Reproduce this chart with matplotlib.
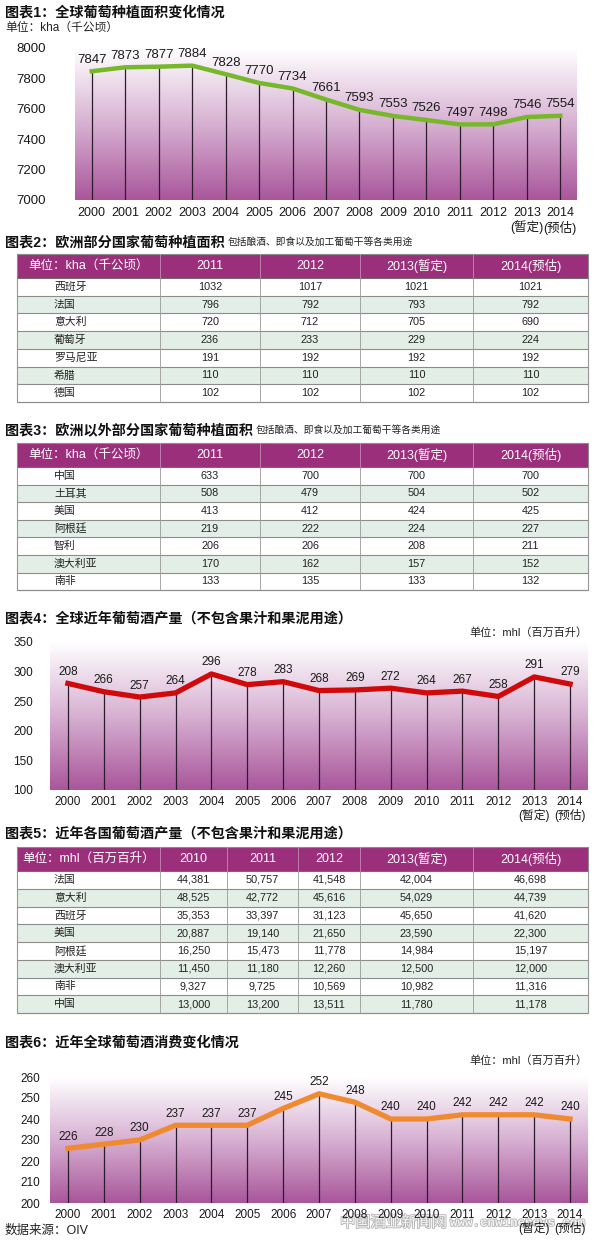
import matplotlib.pyplot as plt
import matplotlib.patheffects as pe
import numpy as np
from matplotlib.colors import LinearSegmentedColormap
from matplotlib.patches import Rectangle

plt.rcParams['font.family'] = ['Liberation Sans', 'Noto Sans CJK SC', 'DejaVu Sans']

# ---- data ----
years = ['2000', '2001', '2002', '2003', '2004', '2005', '2006', '2007',
         '2008', '2009', '2010', '2011', '2012', '2013\n(暂定)', '2014\n(预估)']

area_world = [7847, 7873, 7877, 7884, 7828, 7770, 7734, 7661, 7593, 7553,
              7526, 7497, 7498, 7546, 7554]
prod_world = [280, 266, 257, 264, 296, 278, 283, 268, 269, 272, 264, 267, 258, 291, 279]
prod_labels = ['208', '266', '257', '264', '296', '278', '283', '268', '269', '272',
               '264', '267', '258', '291', '279']
cons_world = [226, 228, 230, 237, 237, 237, 245, 252, 248, 240, 240, 242, 242, 242, 240]

area_cols = ['2011', '2012', '2013(暂定)', '2014(预估)']
eu_countries = ['西班牙', '法国', '意大利', '葡萄牙', '罗马尼亚', '希腊', '德国']
eu_area = [[1032, 1017, 1021, 1021], [796, 792, 793, 792], [720, 712, 705, 690],
           [236, 233, 229, 224], [191, 192, 192, 192], [110, 110, 110, 110],
           [102, 102, 102, 102]]

other_countries = ['中国', '土耳其', '美国', '阿根廷', '智利', '澳大利亚', '南非']
other_area = [[633, 700, 700, 700], [508, 479, 504, 502], [413, 412, 424, 425],
              [219, 222, 224, 227], [206, 206, 208, 211], [170, 162, 157, 152],
              [133, 135, 133, 132]]

wine_cols = ['2010', '2011', '2012', '2013(暂定)', '2014(预估)']
wine_countries = ['法国', '意大利', '西班牙', '美国', '阿根廷', '澳大利亚', '南非', '中国']
wine_prod = [[44381, 50757, 41548, 42004, 46698], [48525, 42772, 45616, 54029, 44739],
             [35353, 33397, 31123, 45650, 41620], [20887, 19140, 21650, 23590, 22300],
             [16250, 15473, 11778, 14984, 15197], [11450, 11180, 12260, 12500, 12000],
             [9327, 9725, 10569, 10982, 11316], [13000, 13200, 13511, 11780, 11178]]

# ---- layout helpers (pixel units) ----
W, H = 600, 1243
fig = plt.figure(figsize=(6, 12.43), dpi=100)
page = fig.add_axes([0, 0, 1, 1])
page.set_xlim(0, W)
page.set_ylim(H, 0)
page.axis('off')

cmap = LinearSegmentedColormap.from_list('mauve', ['#a9569b', '#d7b0d2', '#ffffff'])
grad = np.linspace(0, 1, 256).reshape(-1, 1)


def px_axes(left, top, right, bottom):
    return fig.add_axes([left / W, 1 - bottom / H, (right - left) / W, (bottom - top) / H])


def line_chart(box, vals, labels, ylim, yticks, color, lw, fs, ypad, xpad, xfs=None):
    ax = px_axes(*box)
    ax.imshow(grad, extent=[0, 1, 0, 1], transform=ax.transAxes, aspect='auto',
              cmap=cmap, origin='lower', zorder=0)
    x = np.arange(len(vals))
    ax.vlines(x, ylim[0], vals, color='#2b1d2b', lw=0.9, zorder=1)
    ax.plot(x, vals, color=color, lw=lw, zorder=2, solid_joinstyle='round')
    for xi, v, t in zip(x, vals, labels):
        ax.annotate(t, (xi, v), xytext=(0, 4), textcoords='offset points',
                    ha='center', va='bottom', fontsize=fs, color='#1a1a1a')
    ax.set_xlim(-0.5, 14.5)
    ax.set_ylim(*ylim)
    ax.set_xticks(x, years, fontsize=xfs or fs, linespacing=1.15)
    ax.set_yticks(yticks, [str(t) for t in yticks], fontsize=fs)
    ax.tick_params(axis='x', length=0, pad=xpad, colors='#1a1a1a')
    ax.tick_params(axis='y', length=0, pad=ypad, colors='#1a1a1a')
    for s in ax.spines.values():
        s.set_visible(False)
    return ax


def table(top, header_h, row_h, edges, header, names, rows, fmt):
    left, right = edges[0], edges[-1]
    page.add_patch(Rectangle((left, top), right - left, header_h, color='#9b2f7c', lw=0))
    for i, h in enumerate(header):
        page.text((edges[i] + edges[i + 1]) / 2, top + header_h / 2, h, color='white',
                  fontsize=9, ha='center', va='center')
    for e in edges[1:-1]:
        page.plot([e, e], [top, top + header_h], color='#c48ab4', lw=0.6)
    y0 = top + header_h
    for r, (name, vals) in enumerate(zip(names, rows)):
        yy = y0 + r * row_h
        bg = '#ffffff' if r % 2 == 0 else '#e3efe6'
        page.add_patch(Rectangle((left, yy), right - left, row_h, color=bg, lw=0))
        page.text(54, yy + row_h / 2, name, fontsize=7.8, ha='left', va='center', color='#222')
        for c, v in enumerate(vals):
            page.text((edges[c + 1] + edges[c + 2]) / 2, yy + row_h / 2, fmt(v),
                      fontsize=7.8, ha='center', va='center', color='#222')
        page.plot([left, right], [yy + row_h, yy + row_h], color='#8c8c8c', lw=0.8)
    bottom = y0 + len(rows) * row_h
    page.plot([left, right], [y0, y0], color='#6d6d6d', lw=0.8)
    for e in edges:
        page.plot([e, e], [y0, bottom], color='#9a9a9a', lw=0.6)
    page.add_patch(Rectangle((left, top), right - left, bottom - top, fill=False,
                             ec='#8c8c8c', lw=0.8))


def title(y, text, sub=None):
    t = page.text(5, y, text, fontsize=10.2, fontweight='bold', ha='left', va='center',
                  color='#111')
    if sub:
        page.annotate(sub, xy=(1, 0.5), xycoords=t, xytext=(2, 0), textcoords='offset points',
                      fontsize=7, ha='left', va='center', color='#222')


# ---- chart 1 ----
title(12, '图表1：全球葡萄种植面积变化情况')
page.text(5, 28, '单位：kha（千公顷）', fontsize=8.5, ha='left', va='center', color='#222')
line_chart((75, 48, 577, 200), area_world, [str(v) for v in area_world], (7000, 8000),
           list(range(7000, 8001, 200)), '#76b82a', 3.2, 9.5, 21, 5, xfs=9)

# ---- table 2 ----
title(242, '图表2：欧洲部分国家葡萄种植面积', '包括酿酒、即食以及加工葡萄干等各类用途')
table(254, 24, 17.7, [17, 160, 260, 360, 473, 588], ['单位：kha（千公顷）'] + area_cols,
      eu_countries, eu_area, str)

# ---- table 3 ----
title(430, '图表3：欧洲以外部分国家葡萄种植面积', '包括酿酒、即食以及加工葡萄干等各类用途')
table(443, 24, 17.6, [17, 160, 260, 360, 473, 588], ['单位：kha（千公顷）'] + area_cols,
      other_countries, other_area, str)

# ---- chart 4 ----
title(618, '图表4：全球近年葡萄酒产量（不包含果汁和果泥用途）')
page.text(588, 633, '单位：mhl（百万百升）', fontsize=8, ha='right', va='center', color='#222')
line_chart((50, 642, 588, 790), prod_world, prod_labels, (100, 350),
           list(range(100, 351, 50)), '#d00a0a', 3.8, 8.5, 12, 4)

# ---- table 5 ----
title(833, '图表5：近年各国葡萄酒产量（不包含果汁和果泥用途）')
table(847, 24, 17.75, [17, 160, 227, 298, 360, 473, 588], ['单位：mhl（百万百升）'] + wine_cols,
      wine_countries, wine_prod, lambda v: f'{v:,}')

# ---- chart 6 ----
title(1043, '图表6：近年全球葡萄酒消费变化情况')
page.text(588, 1061, '单位：mhl（百万百升）', fontsize=8, ha='right', va='center', color='#222')
line_chart((50, 1077, 588, 1203), cons_world, [str(v) for v in cons_world], (200, 260),
           list(range(200, 261, 10)), '#f08a30', 3.8, 8.5, 7, 4)

page.text(5, 1231, '数据来源：OIV', fontsize=9, ha='left', va='center', color='#222')
# site watermark, sits over the last tick labels as in the source image
wm = [pe.withStroke(linewidth=1.2, foreground='#b5b5b5')]
page.text(340, 1223, '中国酒业新闻网', fontsize=11, color='#f4f4f4', ha='left', va='center',
          path_effects=wm, zorder=5)
page.text(450, 1223, 'www.cnwinenews.com', fontsize=9, color='#f4f4f4', ha='left',
          va='center', family='Liberation Mono', fontweight='bold', path_effects=wm, zorder=5)

fig.savefig('out.png', dpi=100)
